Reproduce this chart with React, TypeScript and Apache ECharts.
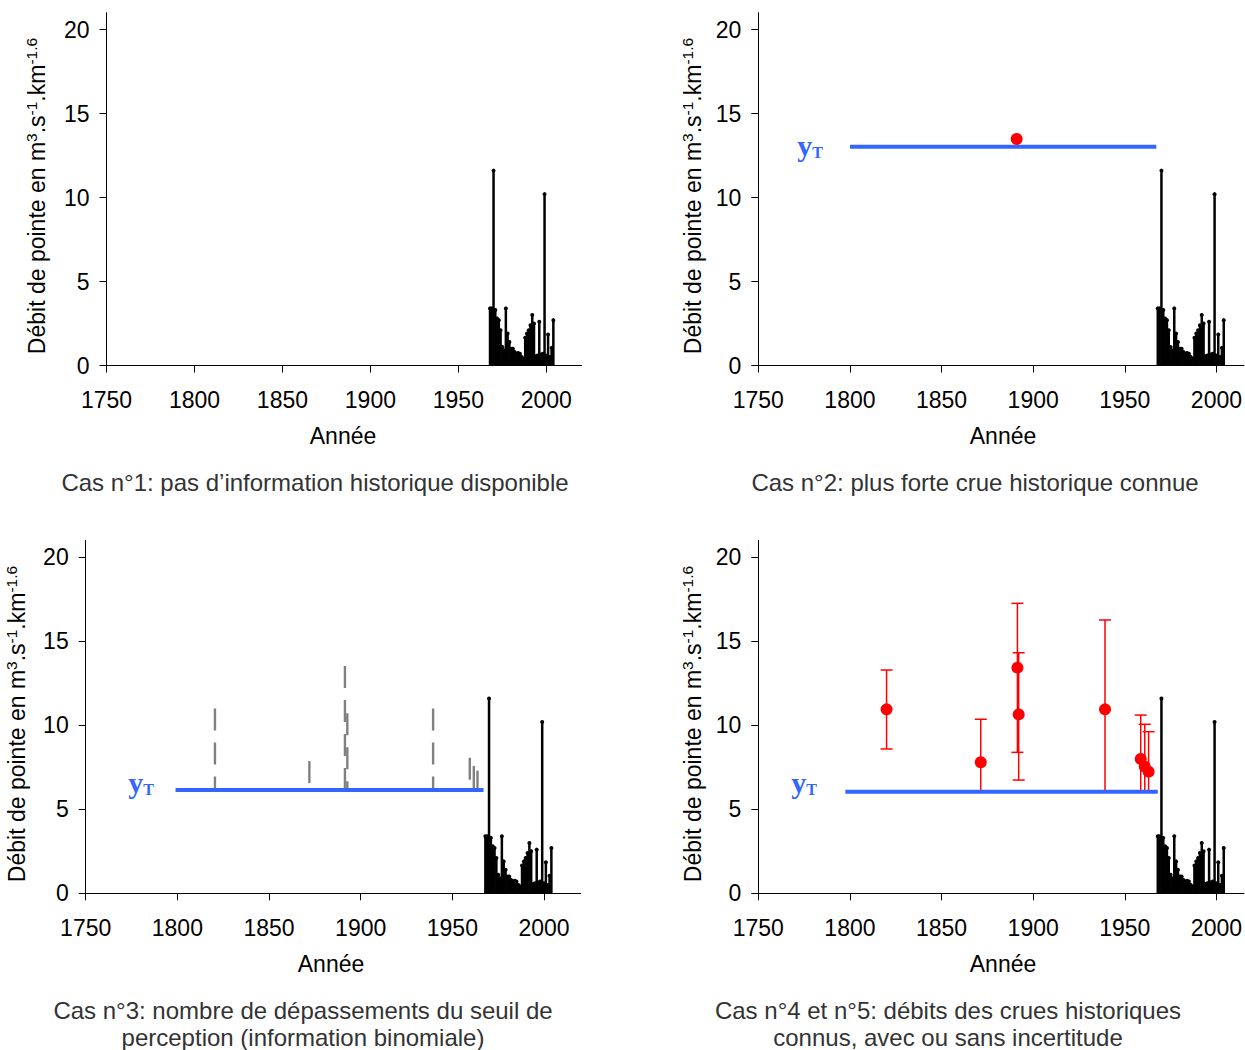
import React, { useEffect, useRef } from 'react';
import * as echarts from 'echarts';

// Observed annual peak flows (1968-2004)
const years = [1968, 1969, 1970, 1971, 1972, 1973, 1974, 1975, 1976, 1977, 1978, 1979, 1980, 1981, 1982, 1983, 1984, 1985, 1986, 1987, 1988, 1989, 1990, 1991, 1992, 1993, 1994, 1995, 1996, 1997, 1998, 1999, 2000, 2001, 2002, 2003, 2004];
const peaks = [3.4, 3.4, 11.6, 3.3, 2.8, 2.7, 2.1, 1.1, 0.9, 3.4, 1.9, 1.4, 1.0, 1.0, 0.8, 0.7, 0.75, 0.7, 0.5, 0.4, 1.65, 1.9, 2.1, 2.4, 3.0, 2.5, 0.55, 0.6, 2.6, 0.65, 0.7, 10.2, 0.6, 1.85, 0.5, 1.05, 2.7];

// Axis ticks
const xTicks = [1750, 1800, 1850, 1900, 1950, 2000];
const yTicks = [0, 5, 10, 15, 20];

// Case 2: perception threshold and largest known historical flood
const yT2Start = [1800, 1967.2];
const yT2Value = 13.02;
const maxFloodYear = [1891];
const maxFloodValue = [13.48];

// Case 3: number of exceedances (dashed bars above threshold)
const yT3Start = [1799, 1967];
const yT3Value = 6.15;
const exceedYears = [1820.5, 1872, 1891.4, 1892.7, 1939.5, 1959.5, 1961.7, 1963.7];
const exceedTops = [11.0, 7.87, 13.53, 10.71, 11.0, 8.07, 7.58, 7.3];

// Case 4/5: historical floods with uncertainty
const yT4Start = [1797.5, 1968];
const yT4Value = 6.05;
const histYears = [1820, 1871.4, 1891.4, 1892.1, 1939.2, 1958.7, 1960.9, 1963.0];
const histValues = [10.95, 7.8, 13.43, 10.65, 10.95, 7.99, 7.54, 7.24];
const histUpper = [13.29, 10.36, 17.26, 14.32, 16.27, 10.61, 10.06, 9.62];
const histLower = [8.59, 6.05, 8.39, 6.74, 6.05, 6.05, 6.05, 6.05];

const captions = [
  ['Cas n°1: pas d’information historique disponible'],
  ['Cas n°2: plus forte crue historique connue'],
  ['Cas n°3: nombre de dépassements du seuil de', 'perception (information binomiale)'],
  ['Cas n°4 et n°5: débits des crues historiques', 'connus, avec ou sans incertitude'],
];

const FONT = '"Liberation Sans", Arial, sans-serif';
const SERIF = '"Liberation Serif", "Times New Roman", serif';
const BLUE = '#3366ff';
const RED = '#ff0000';

const layout = [
  { left: 106.5, top: 12.7, width: 475, height: 352.8, xMax: 2020, yTitle: [37, 196], xTitle: [343, 436], cap: [315, 482], yT: [810, 145] },
  { left: 758.3, top: 12.7, width: 486, height: 352.8, xMax: 2015, yTitle: [693, 196], xTitle: [1003, 436], cap: [975, 482], yT: [810, 145] },
  { left: 85.7, top: 540.5, width: 495, height: 352.8, xMax: 2020, yTitle: [17, 724], xTitle: [331, 964], cap: [303, 1010], yT: [141, 782] },
  { left: 758.3, top: 540.5, width: 486, height: 352.8, xMax: 2015, yTitle: [693, 724], xTitle: [1003, 964], cap: [948, 1010], yT: [804, 782] },
];

function buildOption() {
  const grid = layout.map((l) => ({ left: l.left, top: l.top, width: l.width, height: l.height }));
  const xAxis = layout.map((l, i) => ({
    type: 'value', gridIndex: i, min: 1750, max: l.xMax,
    axisLine: { show: true, onZero: false, lineStyle: { color: '#000', width: 1 } },
    axisTick: { show: true, length: 7, customValues: xTicks, lineStyle: { color: '#000', width: 1 } },
    axisLabel: { customValues: xTicks, color: '#000', fontSize: 23, fontFamily: FONT, margin: 23, formatter: (v: number) => String(v) },
    splitLine: { show: false },
  }));
  const yAxis = layout.map((l, i) => ({
    type: 'value', gridIndex: i, min: 0, max: 21,
    axisLine: { show: true, onZero: false, lineStyle: { color: '#000', width: 1 } },
    axisTick: { show: true, length: 7, customValues: yTicks, lineStyle: { color: '#000', width: 1 } },
    axisLabel: { customValues: yTicks, color: '#000', fontSize: 23, fontFamily: FONT, margin: 17, formatter: (v: number) => String(v) },
    splitLine: { show: false },
  }));

  const barData = years.map((y, k) => [y, peaks[k]]);
  const series: any[] = [];
  for (let i = 0; i < 4; i++) {
    series.push({
      type: 'custom', xAxisIndex: i, yAxisIndex: i, z: 3, silent: true,
      data: barData,
      renderItem: (params: any, api: any) => {
        const x = api.value(0);
        const v = api.value(1);
        const p0 = api.coord([x, 0]);
        const p1 = api.coord([x, v]);
        return {
          type: 'group',
          children: [
            { type: 'line', shape: { x1: p0[0], y1: p0[1], x2: p1[0], y2: p1[1] }, style: { stroke: '#000', lineWidth: 2.5 } },
            { type: 'circle', shape: { cx: p1[0], cy: p1[1], r: 2 }, style: { fill: '#000' } },
          ],
        };
      },
    });
  }

  // Panel 2
  series.push({
    type: 'line', xAxisIndex: 1, yAxisIndex: 1, z: 4, symbol: 'none', silent: true,
    data: yT2Start.map((x) => [x, yT2Value]),
    lineStyle: { color: BLUE, width: 4 },
  });
  series.push({
    type: 'scatter', xAxisIndex: 1, yAxisIndex: 1, z: 5, silent: true, symbolSize: 12,
    data: maxFloodYear.map((x, k) => [x, maxFloodValue[k]]),
    itemStyle: { color: RED, opacity: 1 },
  });

  // Panel 3
  series.push({
    type: 'custom', xAxisIndex: 2, yAxisIndex: 2, z: 3, silent: true,
    data: exceedYears.map((x, k) => [x, exceedTops[k], yT3Value]),
    renderItem: (params: any, api: any) => {
      const top = api.coord([api.value(0), api.value(1)]);
      const bot = api.coord([api.value(0), api.value(2)]);
      return {
        type: 'line',
        shape: { x1: top[0], y1: top[1], x2: bot[0], y2: bot[1] },
        style: { stroke: '#808080', lineWidth: 2.4, lineDash: [22, 12] },
      };
    },
  });
  series.push({
    type: 'line', xAxisIndex: 2, yAxisIndex: 2, z: 4, symbol: 'none', silent: true,
    data: yT3Start.map((x) => [x, yT3Value]),
    lineStyle: { color: BLUE, width: 4 },
  });

  // Panel 4
  series.push({
    type: 'custom', xAxisIndex: 3, yAxisIndex: 3, z: 3, silent: true,
    data: histYears.map((x, k) => [x, histLower[k], histUpper[k]]),
    renderItem: (params: any, api: any) => {
      const x = api.value(0);
      const lo = api.coord([x, api.value(1)]);
      const hi = api.coord([x, api.value(2)]);
      const w = 6;
      const st = { stroke: RED, lineWidth: 1.5 };
      return {
        type: 'group',
        children: [
          { type: 'line', shape: { x1: lo[0], y1: lo[1], x2: hi[0], y2: hi[1] }, style: st },
          { type: 'line', shape: { x1: hi[0] - w, y1: hi[1], x2: hi[0] + w, y2: hi[1] }, style: st },
          { type: 'line', shape: { x1: lo[0] - w, y1: lo[1], x2: lo[0] + w, y2: lo[1] }, style: st },
        ],
      };
    },
  });
  series.push({
    type: 'line', xAxisIndex: 3, yAxisIndex: 3, z: 4, symbol: 'none', silent: true,
    data: yT4Start.map((x) => [x, yT4Value]),
    lineStyle: { color: BLUE, width: 4 },
  });
  series.push({
    type: 'scatter', xAxisIndex: 3, yAxisIndex: 3, z: 5, silent: true, symbolSize: 12,
    data: histYears.map((x, k) => [x, histValues[k]]),
    itemStyle: { color: RED, opacity: 1 },
  });

  const graphic: any[] = [];
  layout.forEach((l, i) => {
    graphic.push({
      type: 'text', x: l.yTitle[0], y: l.yTitle[1], rotation: Math.PI / 2, silent: true,
      style: {
        text: '{n|Débit de pointe en m}{s|3}{n|.s}{s|-1}{n|.km}{s|-1.6}',
        align: 'center', verticalAlign: 'middle',
        rich: {
          n: { fontSize: 23, fontFamily: FONT, fill: '#000', lineHeight: 28 },
          s: { fontSize: 15.5, fontFamily: FONT, fill: '#000', lineHeight: 16, verticalAlign: 'top' },
        },
      },
    });
    graphic.push({
      type: 'text', x: l.xTitle[0], y: l.xTitle[1], silent: true,
      style: { text: 'Année', fontSize: 23, fontFamily: FONT, fill: '#000', align: 'center', verticalAlign: 'middle' },
    });
    captions[i].forEach((line, k) => {
      graphic.push({
        type: 'text', x: l.cap[0], y: l.cap[1] + k * 27, silent: true,
        style: { text: line, fontSize: 24, fontFamily: FONT, fill: '#333333', align: 'center', verticalAlign: 'middle' },
      });
    });
    if (i > 0) {
      graphic.push({
        type: 'text', x: l.yT[0], y: l.yT[1], silent: true,
        style: {
          text: '{y|y}{t|T}', align: 'center', verticalAlign: 'middle',
          rich: {
            y: { fontSize: 30, fontFamily: SERIF, fontWeight: 'bold', fill: BLUE, lineHeight: 30 },
            t: { fontSize: 16, fontFamily: SERIF, fontWeight: 'bold', fill: BLUE, lineHeight: 16, verticalAlign: 'bottom' },
          },
        },
      });
    }
  });

  return { animation: false, backgroundColor: '#ffffff', grid, xAxis, yAxis, series, graphic };
}

export default function App() {
  const ref = useRef<HTMLDivElement>(null);
  useEffect(() => {
    if (!ref.current) return;
    const chart = echarts.init(ref.current, undefined, { renderer: 'svg' });
    chart.setOption(buildOption() as any);
    return () => chart.dispose();
  }, []);
  return <div ref={ref} style={{ position: 'absolute', left: 0, top: 0, width: 1245, height: 1050, background: '#fff' }} />;
}
